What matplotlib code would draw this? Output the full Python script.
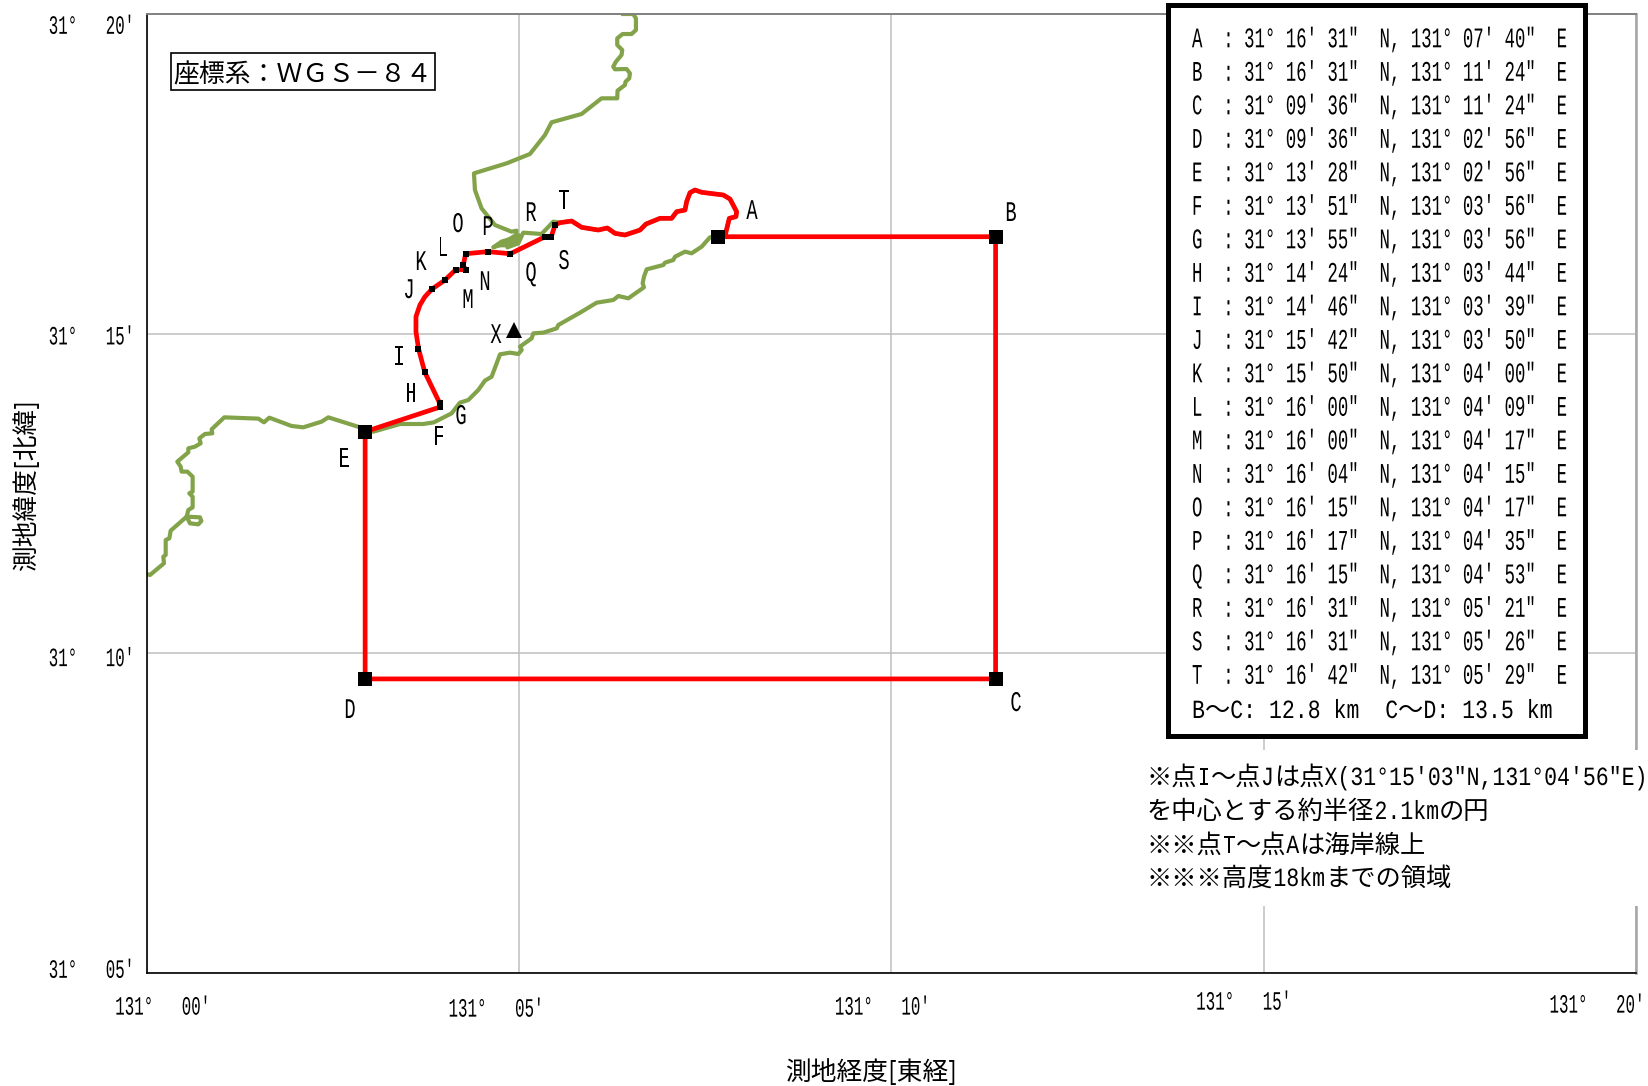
import re
import matplotlib
matplotlib.use('Agg')
import matplotlib.pyplot as plt
from matplotlib.patches import Rectangle
from matplotlib.patheffects import AbstractPathEffect
from matplotlib.transforms import Affine2D

W, H = 1648, 1086
plt.rcParams['font.family'] = ['Liberation Mono', 'Noto Sans CJK JP', 'DejaVu Sans']
CJK = ['Noto Sans CJK JP', 'DejaVu Sans']

# route corner points, degrees/minutes/seconds as listed in the chart
names = list('ABCDEFGHIJKLMNOPQRST')
lat_min = [16, 16, 9, 9, 13, 13, 13, 14, 14, 15, 15, 16, 16, 16, 16, 16, 16, 16, 16, 16]
lat_sec = [31, 31, 36, 36, 28, 51, 55, 24, 46, 42, 50, 0, 0, 4, 15, 17, 15, 31, 31, 42]
lon_min = [7, 11, 11, 2, 2, 3, 3, 3, 3, 3, 4, 4, 4, 4, 4, 4, 4, 5, 5, 5]
lon_sec = [40, 24, 24, 56, 56, 56, 56, 44, 39, 50, 0, 9, 17, 15, 17, 35, 53, 21, 26, 29]
big_points = list('ABCDE')

# centre point X
x_lat = 15 + 3 / 60
x_lon = 4 + 56 / 60

# arc I-J (minutes past 131E / 31N)
arc_lon = [3.616, 3.616, 3.669, 3.737]
arc_lat = [15.031, 15.266, 15.448, 15.579]

# boundary T-A along the shore
shore_lon = [5.550, 5.707, 5.841, 6.065, 6.186, 6.289, 6.423, 6.625, 6.705, 6.893, 7.050,
             7.117, 7.229, 7.251, 7.296, 7.363, 7.453, 7.743, 7.833, 7.922, 7.913, 7.824, 7.766]
shore_lat = [16.736, 16.762, 16.663, 16.621, 16.653, 16.569, 16.543, 16.621, 16.715, 16.804, 16.804,
             16.908, 16.934, 17.065, 17.205, 17.247, 17.211, 17.169, 17.106, 16.908, 16.830, 16.804, 16.528]

# coastline from the top edge to the shore section
north_lon = [6.399, 6.534, 6.570, 6.570, 6.511, 6.391, 6.319, 6.319, 6.386, 6.377, 6.301, 6.265, 6.288,
             6.444, 6.489, 6.480, 6.431, 6.422, 6.323, 6.319, 6.108, 5.840, 5.437, 5.348, 5.146, 4.833,
             4.395, 4.408, 4.497, 4.676, 4.900, 4.967, 4.958, 4.766, 4.654, 4.945, 4.844, 4.990, 5.057,
             5.303, 5.460]
north_lat = [20.0, 20.0, 19.932, 19.750, 19.687, 19.687, 19.619, 19.515, 19.437, 19.359, 19.254, 19.176, 19.135,
             19.140, 19.072, 18.994, 18.942, 18.889, 18.801, 18.681, 18.681, 18.436, 18.306, 18.107, 17.810, 17.664,
             17.508, 17.247, 16.960, 16.700, 16.595, 16.611, 16.507, 16.440, 16.350, 16.465, 16.350, 16.413, 16.580,
             16.559, 16.752]

# coastline from point A round to the left edge
south_lon = [7.667, 7.564, 7.453, 7.318, 7.229, 7.095, 7.072, 6.960, 6.938, 6.714, 6.678,
             6.660, 6.678, 6.468, 6.334, 6.267, 6.043, 5.819, 5.528, 5.506, 5.327, 5.192, 5.170, 5.013,
             5.036, 4.991, 4.879, 4.745, 4.632, 4.542, 4.453, 4.318, 4.206, 4.095, 3.857, 3.714, 3.401,
             3.043, 2.864, 2.439, 2.349, 2.103, 1.946, 1.646, 1.575, 1.499, 1.042, 0.872, 0.881, 0.783,
             0.707, 0.725, 0.648, 0.559, 0.559, 0.411, 0.456, 0.469, 0.546, 0.617, 0.617, 0.572, 0.617,
             0.617, 0.559, 0.537, 0.716, 0.734, 0.693, 0.581, 0.537, 0.322, 0.304, 0.255, 0.255, 0.223,
             0.232, 0.044, 0.0]
south_lat = [16.517, 16.507, 16.361, 16.257, 16.283, 16.204, 16.152, 16.111, 16.074, 16.006, 15.892,
             15.787, 15.725, 15.553, 15.589, 15.527, 15.485, 15.328, 15.136, 15.083, 15.016, 15.005, 14.927, 14.797,
             14.745, 14.682, 14.703, 14.677, 14.327, 14.265, 14.119, 13.962, 13.921, 13.754, 13.613, 13.587, 13.587,
             13.467, 13.535, 13.691, 13.624, 13.535, 13.556, 13.686, 13.613, 13.671, 13.691, 13.504, 13.441, 13.431,
             13.363, 13.285, 13.233, 13.206, 13.144, 12.998, 12.920, 12.842, 12.842, 12.763, 12.529, 12.503, 12.450,
             12.284, 12.242, 12.138, 12.127, 12.070, 12.018, 12.033, 12.138, 11.919, 11.799, 11.773, 11.538, 11.512,
             11.408, 11.225, 11.241]

# the narrow inlet that fills up solid at this scale
inlet_lon = [4.654, 4.766, 4.958, 5.034, 4.990, 4.878]
inlet_lat = [16.350, 16.439, 16.580, 16.559, 16.413, 16.350]

x_ticks = [0, 5, 10, 15, 20]
x_labels = ["131°   00'", "131°   05'", "131°   10'", "131°   15'", "131°   20'"]
y_ticks = [5, 10, 15, 20]
y_labels = ["31°   05'", "31°   10'", "31°   15'", "31°   20'"]

notes = ["※点I～点Jは点X(31°15'03″N,131°04'56″E)",
         "を中心とする約半径2.1kmの円",
         "※※点T～点Aは海岸線上",
         "※※※高度18kmまでの領域"]
distances = "B～C: 12.8 km  C～D: 13.5 km"


class Tall(AbstractPathEffect):
    # stretch the glyphs upward, the chart uses a tall half-width gothic face
    def __init__(self, sy, anchor='baseline'):
        self.sy = sy
        self.anchor = anchor

    def draw_path(self, renderer, gc, tpath, affine, rgbFace=None):
        if self.anchor == 'baseline':
            y0 = affine.get_matrix()[1, 2]
        else:
            box = affine.transform_path(tpath).get_extents()
            y0 = (box.y0 + box.y1) / 2
        renderer.draw_path(gc, tpath, affine + Affine2D().translate(0, -y0).scale(1, self.sy).translate(0, y0), rgbFace)


def fx(px):
    return px / W


def fy(py):
    return 1 - py / H


def put(px, py, s, sy=1.52, ha='center', va='baseline', fontsize=13.5, **kw):
    t = fig.text(fx(px), fy(py), s, zorder=5, ha=ha, va=va, fontsize=fontsize, **kw)
    if sy != 1:
        t.set_path_effects([Tall(sy)])
    return t


def put_mixed(px, py, s, size_cjk=18.2, size_latin=15.5, sy=1.22):
    # full-width runs are plain, the half-width ones are stretched upward
    for part in re.split(r'([※\u3000-\u9fff\uff00-\uffef]+)', s):
        if not part:
            continue
        if re.match(r'[※\u3000-\u9fff\uff00-\uffef]', part):
            put(px, py, part, sy=1, ha='left', fontsize=size_cjk, family=CJK)
            px += len(part) * size_cjk * 100 / 72
        else:
            put(px, py, part, sy=sy, ha='left', fontsize=size_latin)
            px += len(part) * size_latin * 100 / 72 * 0.6


lon = [m + s / 60 for m, s in zip(lon_min, lon_sec)]
lat = [m + s / 60 for m, s in zip(lat_min, lat_sec)]
idx = {n: i for i, n in enumerate(names)}

fig = plt.figure(figsize=(W / 100, H / 100), dpi=100)
ax = fig.add_axes([fx(146.7), fy(973), (1636 - 146.7) / W, (973 - 14) / H])
ax.set_xlim(0, 20)
ax.set_ylim(5, 20)

ax.set_xticks(x_ticks)
ax.set_yticks(y_ticks)
ax.set_xticklabels(x_labels, fontsize=11.4)
ax.set_yticklabels(y_labels, fontsize=11.4)
ax.tick_params(length=0)
ax.tick_params(axis='x', pad=15)
ax.tick_params(axis='y', pad=9)
ax.grid(True, color='#bfbfbf', lw=1.1)
ax.set_axisbelow(True)

# the original labels sit a little off their ticks
x_shift = [(16, -5), (-23, -7), (-9, -5), (-20, 0), (-39, -3)]
y_shift = [(0, 5), (0, -3), (0, -1), (0, -10)]
for lab, (dx, dy) in zip(ax.get_xticklabels(), x_shift):
    lab.set_transform(lab.get_transform() + Affine2D().translate(dx, dy))
    lab.set_path_effects([Tall(1.67, 'center')])
for lab, (dx, dy) in zip(ax.get_yticklabels(), y_shift):
    lab.set_transform(lab.get_transform() + Affine2D().translate(dx, dy))
    lab.set_path_effects([Tall(1.67, 'center')])

ax.spines['left'].set(color='black', lw=1.2)
ax.spines['bottom'].set(color='black', lw=1.2)
ax.spines['top'].set(color='#808080', lw=1.4)
ax.spines['right'].set(color='#a6a6a6', lw=1.8)

ax.plot(north_lon + shore_lon + south_lon, north_lat + shore_lat + south_lat,
        color='#82a349', lw=3.0, solid_joinstyle='round')
ax.fill(inlet_lon, inlet_lat, color='#82a349', lw=0)

# route: A-B-...-I, arc to J, J-...-T, shore back to A
i_pos = idx['I']
j_pos = idx['J']
route_lon = lon[:i_pos + 1] + arc_lon + lon[j_pos:] + shore_lon + [lon[0]]
route_lat = lat[:i_pos + 1] + arc_lat + lat[j_pos:] + shore_lat + [lat[0]]
ax.plot(route_lon, route_lat, color='#ff0000', lw=3.4, solid_joinstyle='round')

for n in names:
    size = 9.5 if n in big_points else 4.5
    ax.plot(lon[idx[n]], lat[idx[n]], 's', color='black', ms=size, mew=0)
ax.plot(x_lon, x_lat, '^', color='black', ms=12, mew=0)

# point letters, centre of the letter in pixels
letter_px = {'A': (752, 209), 'B': (1011, 211), 'C': (1016, 701), 'D': (350, 708), 'E': (344, 457),
             'F': (439, 435), 'G': (461, 414), 'H': (411, 392), 'I': (399, 355), 'J': (409, 288),
             'K': (421, 260), 'L': (443, 246), 'M': (468, 298), 'N': (485, 280), 'O': (458, 222),
             'P': (488, 225), 'Q': (531, 271), 'R': (531, 211), 'S': (564, 259), 'T': (564, 199),
             'X': (496, 333)}
for n, (px, py) in letter_px.items():
    put(px, py + 10, n)

put(871, 1073, '測地経度[東経]', sy=1, va='center', fontsize=18.5, family=CJK)
put(27, 485, '測地緯度[北緯]', sy=1, va='center', fontsize=18.5, rotation=90, family=CJK)

# datum label
fig.add_artist(Rectangle((fx(170.7), fy(90)), (435 - 170.7) / W, (90 - 52.7) / H, transform=fig.transFigure,
                         fc='white', ec='black', lw=1.2, zorder=2))
put(303, 75, '座標系：ＷＧＳ－８４', sy=1, va='center', fontsize=18.6, family=CJK)

# white block behind the notes breaks the grid lines and the right spine
fig.add_artist(Rectangle((fx(1145), fy(906)), (W - 1145) / W, (906 - 750) / H, transform=fig.transFigure,
                         fc='white', ec='none', zorder=2))
fig.add_artist(Rectangle((fx(1168), fy(736)), (1585 - 1168) / W, (736 - 5) / H, transform=fig.transFigure,
                         fc='white', ec='black', lw=3.6, zorder=3))

# coordinate table, one monospaced line per point
for row, n in enumerate(names):
    i = idx[n]
    line = (f"{n}  : 31° {lat_min[i]:02d}' {lat_sec[i]:02d}″  N, "
            f"131° {lon_min[i]:02d}' {lon_sec[i]:02d}″  E")
    put(1192, 47.3 + row * 33.5, line, sy=1.64, ha='left', fontsize=12.5)
put_mixed(1192, 718, distances)

for line, py in zip(notes, [785, 819, 853, 886]):
    put_mixed(1147, py, line)

fig.savefig('out.png', dpi=100)
